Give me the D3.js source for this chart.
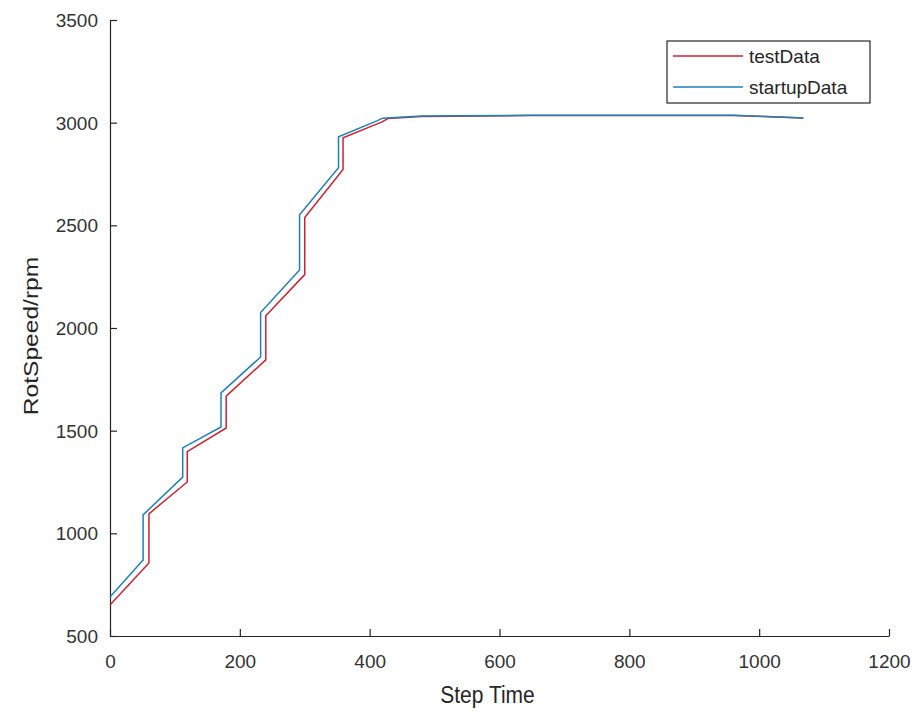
<!DOCTYPE html>
<html>
<head>
<meta charset="utf-8">
<script src="https://cdn.jsdelivr.net/npm/d3@7"></script>
<style>
  body { margin: 0; background: #fff; }
  text { font-family: "Liberation Sans", Arial, sans-serif; fill: #262626; }
</style>
</head>
<body>
<div id="chart"></div>
<script>
// data
var testX = [0, 60, 60, 119, 119, 179, 179, 240, 240, 300, 300, 359, 359, 420, 428, 480, 650, 960, 1068];
var testY = [651, 856, 1095, 1250, 1398, 1513, 1668, 1845, 2060, 2260, 2538, 2772, 2926, 3005, 3020, 3030, 3035, 3035, 3023];
var startupX = [0, 51, 51, 112, 112, 171, 171, 232, 232, 292, 292, 352, 352, 412, 420, 480, 650, 960, 1068];
var startupY = [690, 870, 1090, 1274, 1416, 1518, 1684, 1859, 2075, 2283, 2551, 2780, 2931, 3010, 3022, 3032, 3036, 3036, 3023];
var xTicks = [0, 200, 400, 600, 800, 1000, 1200];
var yTicks = [500, 1000, 1500, 2000, 2500, 3000, 3500];
var seriesNames = ["testData", "startupData"];
var seriesColors = ["#cc2233", "#1f80bd"];

// set the dimensions and margins of the graph
var margin = { top: 20, right: 32, bottom: 79, left: 110 },
  width = 921 - margin.left - margin.right,
  height = 715 - margin.top - margin.bottom;

var svg = d3.select("#chart")
  .append("svg")
  .attr("width", width + margin.left + margin.right)
  .attr("height", height + margin.top + margin.bottom)
  .append("g")
  .attr("transform", "translate(" + margin.left + "," + margin.top + ")");

var x = d3.scaleLinear().domain([0, 1200]).range([0, width]);
var y = d3.scaleLinear().domain([500, 3500]).range([height, 0]);

// X axis, ticks point inward
var xAxis = svg.append("g")
  .attr("transform", "translate(0," + height + ")")
  .call(d3.axisTop(x).tickValues(xTicks).tickSize(7).tickSizeOuter(0).tickFormat(d3.format("d")));
xAxis.selectAll("text")
  .attr("y", 32)
  .attr("dy", 0)
  .style("fill", "#333")
  .style("font-size", "19px");

// Y axis
var yAxis = svg.append("g")
  .call(d3.axisRight(y).tickValues(yTicks).tickSize(7).tickSizeOuter(0).tickFormat(d3.format("d")));
yAxis.selectAll("text")
  .attr("x", -12)
  .attr("dy", "0.35em")
  .attr("text-anchor", "end")
  .style("fill", "#333")
  .style("font-size", "19px");

svg.selectAll(".domain, .tick line").attr("stroke", "#262626").attr("stroke-width", 1.2);

// Axis labels (a bit stretched vertically like the original)
svg.append("text")
  .attr("transform", "translate(" + (width / 2 - 12) + "," + (height + 67) + ") scale(1,1.13)")
  .attr("text-anchor", "middle")
  .style("font-size", "21px")
  .text("Step Time");

svg.append("text")
  .attr("transform", "translate(" + (38 - margin.left) + "," + (height / 2 + 8) + ") rotate(-90) scale(1.17,1)")
  .attr("text-anchor", "middle")
  .style("font-size", "21px")
  .text("RotSpeed/rpm");

// Lines
var line = d3.line()
  .x(function (d) { return x(d[0]) })
  .y(function (d) { return y(d[1]) });

var seriesData = [
  d3.zip(testX, testY),
  d3.zip(startupX, startupY)
];

seriesData.forEach(function (data, i) {
  svg.append("path")
    .datum(data)
    .attr("fill", "none")
    .attr("stroke", seriesColors[i])
    .attr("stroke-width", 1.5)
    .attr("d", line);
});

// Legend
var legend = svg.append("g")
  .attr("transform", "translate(" + (667 - margin.left) + "," + (41 - margin.top) + ")");
legend.append("rect")
  .attr("width", 203)
  .attr("height", 62)
  .attr("fill", "#fff")
  .attr("stroke", "#262626")
  .attr("stroke-width", 1.2);
seriesNames.forEach(function (name, i) {
  var ly = 15 + i * 31;
  legend.append("line")
    .attr("x1", 6).attr("x2", 76)
    .attr("y1", ly).attr("y2", ly)
    .attr("stroke", seriesColors[i])
    .attr("stroke-width", 1.5);
  legend.append("text")
    .attr("x", 82)
    .attr("y", ly)
    .attr("dy", "0.35em")
    .style("font-size", "19px")
    .text(name);
});
</script>
</body>
</html>
